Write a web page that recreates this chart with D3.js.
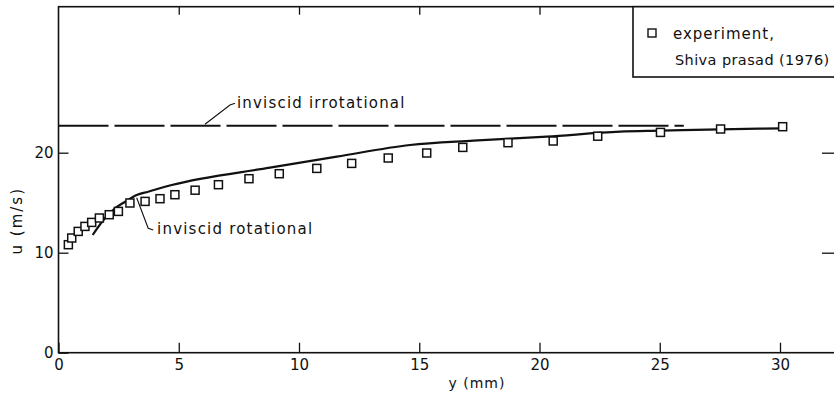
<!DOCTYPE html>
<html>
<head>
<meta charset="utf-8">
<script src="https://cdn.jsdelivr.net/npm/d3@7"></script>
<style>
  body { margin: 0; background: #fff; }
  svg { display: block; }
  text { font-family: "DejaVu Sans", sans-serif; fill: #111; }
</style>
</head>
<body>
<div id="chart"></div>
<script>
// Data

// experiment, Shiva prasad (1976): y (mm) and u (m/s)
var expY = [0.41, 0.55, 0.82, 1.10, 1.38, 1.70, 2.11, 2.49, 2.97, 3.60, 4.22, 4.84, 5.68, 6.65, 7.92, 9.18, 10.74, 12.19, 13.71, 15.31, 16.81, 18.69, 20.57, 22.42, 25.03, 27.53, 30.11];
var expU = [10.8, 11.47, 12.13, 12.63, 13.03, 13.47, 13.8, 14.13, 14.97, 15.13, 15.4, 15.8, 16.25, 16.8, 17.4, 17.9, 18.43, 18.93, 19.47, 19.97, 20.53, 21.0, 21.17, 21.65, 22.03, 22.37, 22.6];

// inviscid rotational solution
var rotY = [1.42, 1.93, 2.35, 2.77, 3.25, 3.73, 4.71, 8.79, 11.57, 14.62, 17.25, 20.30, 23.35, 25.01, 27.51, 30.11];
var rotU = [11.77, 13.44, 14.44, 15.10, 15.77, 16.10, 16.77, 18.50, 19.60, 20.77, 21.20, 21.60, 22.10, 22.20, 22.34, 22.44];

// inviscid irrotational solution (constant)
var irrotY = [0, 26];
var irrotU = [22.7, 22.7];

// ticks
var xTicks = [0, 5, 10, 15, 20, 25, 30];
var yTicks = [0, 10, 20];

// Layout
var width = 834;
var height = 395;
var padLeft = 58.5, padRight = 836, padTop = 6.7, padBottom = 352.7;

var svg = d3.select("#chart")
    .append("svg")
    .attr("width", width)
    .attr("height", height);

var xScale = d3.scaleLinear()
    .domain([0, (padRight - padLeft) / 24.05])
    .range([padLeft, padRight]);

var yScale = d3.scaleLinear()
    .domain([0, (padBottom - padTop) / 10])
    .range([padBottom, padTop]);

// frame
svg.append("rect")
    .attr("x", padLeft)
    .attr("y", padTop)
    .attr("width", padRight - padLeft)
    .attr("height", padBottom - padTop)
    .attr("fill", "none")
    .attr("stroke", "#111")
    .attr("stroke-width", 1.6);

// axes, ticks pointing inwards
var xAxis = d3.axisBottom(xScale).tickValues(xTicks).tickSizeInner(-10).tickSizeOuter(0).tickPadding(7);
var yAxis = d3.axisLeft(yScale).tickValues(yTicks).tickSizeInner(-10).tickSizeOuter(0).tickPadding(5);

svg.append("g")
    .attr("transform", "translate(0," + padBottom + ")")
    .call(xAxis);

svg.append("g")
    .attr("transform", "translate(" + padLeft + ",0)")
    .call(yAxis);

// right and top ticks
svg.append("g")
    .attr("transform", "translate(" + padRight + ",0)")
    .call(d3.axisRight(yScale).tickValues(yTicks.slice(1)).tickSizeInner(-14).tickSizeOuter(0).tickFormat(""));

svg.append("g")
    .attr("transform", "translate(0," + padTop + ")")
    .call(d3.axisTop(xScale).tickValues([5, 10, 15, 20]).tickSizeInner(-8).tickSizeOuter(0).tickFormat(""));

svg.selectAll(".domain").remove();
svg.selectAll(".tick line").attr("stroke", "#111").attr("stroke-width", 1.3);
svg.selectAll(".tick text")
    .attr("font-size", 15)
    .attr("font-family", "DejaVu Sans, sans-serif")
    .attr("fill", "#111");

// axis titles
svg.append("text")
    .attr("x", xScale(17.4))
    .attr("y", 388)
    .attr("text-anchor", "middle")
    .attr("font-size", 14)
    .attr("letter-spacing", 1)
    .text("y (mm)");

svg.append("text")
    .attr("transform", "translate(22," + yScale(13.2) + ") rotate(-90)")
    .attr("text-anchor", "middle")
    .attr("font-size", 15)
    .attr("letter-spacing", 2)
    .text("u (m/s)");

// inviscid irrotational (dashed)
var line = d3.line()
    .x(function(d) { return xScale(d[0]); })
    .y(function(d) { return yScale(d[1]); });

svg.append("path")
    .datum(d3.zip(irrotY, irrotU))
    .attr("d", line)
    .attr("fill", "none")
    .attr("stroke", "#111")
    .attr("stroke-width", 2)
    .attr("stroke-dasharray", "50,6");

// inviscid rotational (solid)
svg.append("path")
    .datum(d3.zip(rotY, rotU))
    .attr("d", line.curve(d3.curveMonotoneX))
    .attr("fill", "none")
    .attr("stroke", "#111")
    .attr("stroke-width", 2.2);

// experiment squares
var sq = 8;
svg.selectAll("rect.exp")
    .data(d3.zip(expY, expU))
    .enter()
    .append("rect")
    .attr("class", "exp")
    .attr("x", function(d) { return xScale(d[0]) - sq / 2; })
    .attr("y", function(d) { return yScale(d[1]) - sq / 2; })
    .attr("width", sq)
    .attr("height", sq)
    .attr("fill", "#fff")
    .attr("stroke", "#111")
    .attr("stroke-width", 1.5);

// annotations (in data units)
var leader = d3.line()
    .x(function(d) { return xScale(d[0]); })
    .y(function(d) { return yScale(d[1]); });

svg.append("path")
    .attr("d", leader([[6.09, 22.84], [7.13, 24.77], [7.34, 24.94]]))
    .attr("fill", "none")
    .attr("stroke", "#111")
    .attr("stroke-width", 1.1);

svg.append("text")
    .attr("x", xScale(7.42))
    .attr("y", yScale(24.97))
    .attr("dominant-baseline", "middle")
    .attr("font-size", 15)
    .attr("letter-spacing", 1.2)
    .text("inviscid irrotational");

svg.append("path")
    .attr("d", leader([[3.25, 15.5], [3.73, 12.44], [3.94, 12.27]]))
    .attr("fill", "none")
    .attr("stroke", "#111")
    .attr("stroke-width", 1.1);

svg.append("text")
    .attr("x", xScale(4.1))
    .attr("y", yScale(12.37))
    .attr("dominant-baseline", "middle")
    .attr("font-size", 15)
    .attr("letter-spacing", 1.2)
    .text("inviscid rotational");

// legend box
var legend = svg.append("g");

legend.append("rect")
    .attr("x", 633)
    .attr("y", padTop)
    .attr("width", 220)
    .attr("height", 77 - padTop)
    .attr("fill", "#fff")
    .attr("stroke", "#111")
    .attr("stroke-width", 1.6);

legend.append("rect")
    .attr("x", 648)
    .attr("y", 29)
    .attr("width", 8)
    .attr("height", 8)
    .attr("fill", "#fff")
    .attr("stroke", "#111")
    .attr("stroke-width", 1.4);

legend.append("text")
    .attr("x", 673)
    .attr("y", 39)
    .attr("font-size", 15)
    .attr("letter-spacing", 1)
    .text("experiment,");

legend.append("text")
    .attr("x", 675)
    .attr("y", 65)
    .attr("font-size", 14.5)
    .attr("letter-spacing", 0.4)
    .text("Shiva prasad (1976)");
</script>
</body>
</html>
